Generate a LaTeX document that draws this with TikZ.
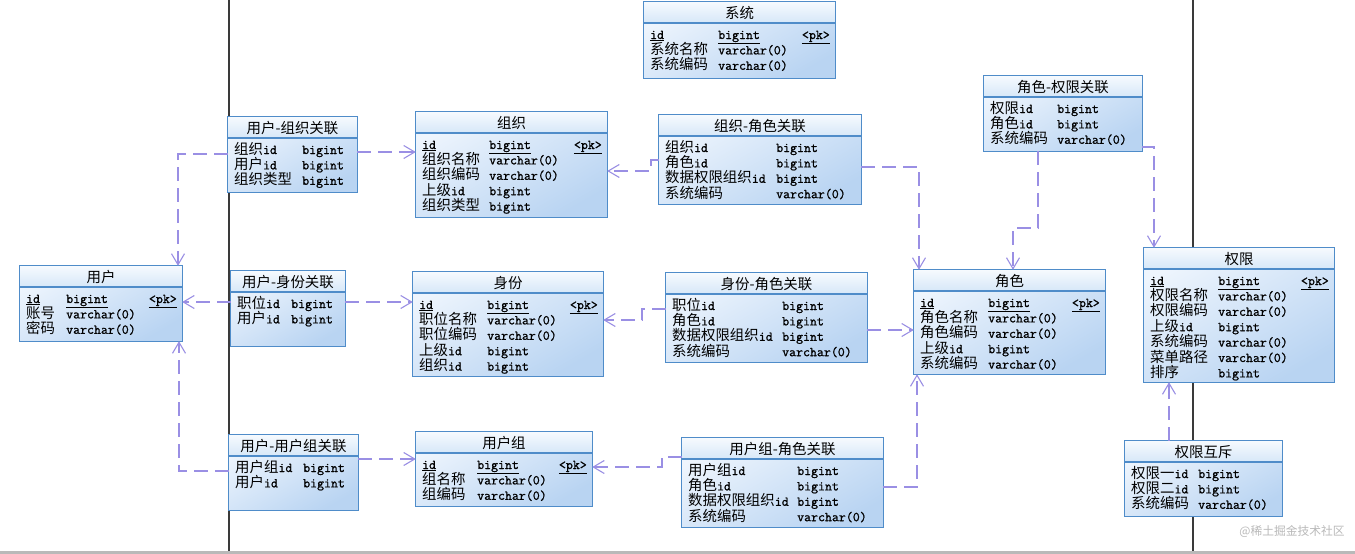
\documentclass[tikz,border=0pt]{standalone}
\usepackage{fontspec}
\newfontfamily\cjk[Scale=1.07]{Noto Sans CJK SC}
\newfontfamily\monof[FakeBold=1.2]{Latin Modern Mono}
\usetikzlibrary{fit,arrows.meta}
\definecolor{bordc}{HTML}{4F8CC9}
\definecolor{bodytop}{HTML}{EEF5FD}
\definecolor{bodybot}{HTML}{B9D4F2}
\definecolor{hdtop}{HTML}{F6FAFE}
\definecolor{hdbot}{HTML}{D6E7F8}
\definecolor{relc}{HTML}{9A8FE4}
\definecolor{sepc}{HTML}{3A3A3A}
\newcommand\zh[1]{{\cjk #1}}
\newcommand\und[1]{\underline{#1}}
\tikzset{
  tbl/.style={inner sep=0pt, top color=bodytop, bottom color=bodybot, shading angle=30},
  tblline/.style={draw=bordc, line width=1.3pt},
  ttl/.style={inner sep=0pt, anchor=center, font=\fontsize{13.5}{15}\cjk},
  cell/.style={inner sep=0pt, anchor=base west, font=\fontsize{13.5}{15}\monof},
  rel/.style={draw=relc, line width=1.2pt, dash pattern=on 14pt off 7pt,
    -{Straight Barb[length=11pt,width=13pt,line width=1.1pt]}},
  sepline/.style={draw=sepc, line width=1.4pt}
}
% #1 name #2 x1 #3 y1 #4 x2 #5 y2 #6 title #7 type column offset #8 rows
\newcommand\ertbl[8]{%
  \node[tbl, fit={(#2,#3) (#4,#5)}] (#1) {};
  \shade[top color=hdtop, bottom color=hdbot] (#2,#3) rectangle (#4,#3+21);
  \draw[tblline] (#2,#3+21) -- (#4,#3+21);
  \draw[tblline] (#1.north west) rectangle (#1.south east);
  \node[ttl] at ({(#2+#4)/2}, #3+11) {#6};
  \foreach \n/\t/\k [count=\i from 0] in {#8} {
    \node[cell] at (#2+6, #3+37+\i*15.4) {\n};
    \node[cell] at (#2+#7, #3+37+\i*15.4) {\t};
    \node[cell, anchor=base east] at (#4-5, #3+37+\i*15.4) {\k};
  }
}
\begin{document}
\begin{tikzpicture}[x=1pt,y=-1pt]
\useasboundingbox (0,0) rectangle (1355,554);
\fill[white] (0,0) rectangle (1355,554);
\fill[gray!55] (0,550.5) rectangle (1355,554);
\draw[sepline] (229,0) -- (229,550.5);
\draw[sepline] (1193,0) -- (1193,550.5);

\ertbl{sys}{644}{2}{835}{78}{系统}{74}{\und{id}/\und{bigint}/\und{<pk>}, \zh{系统名称}/varchar(0)/{}, \zh{系统编码}/varchar(0)/{}}
\ertbl{uo}{228}{117}{357}{192}{用户-组织关联}{74}{\zh{组织}id/bigint/{}, \zh{用户}id/bigint/{}, \zh{组织类型}/bigint/{}}
\ertbl{user}{20}{266}{182}{341}{用户}{46}{\und{id}/\und{bigint}/\und{<pk>}, \zh{账号}/varchar(0)/{}, \zh{密码}/varchar(0)/{}}
\ertbl{ui}{231}{271}{345}{346}{用户-身份关联}{60}{\zh{职位}id/bigint/{}, \zh{用户}id/bigint/{}}
\ertbl{ug}{229}{435}{358}{510}{用户-用户组关联}{74}{\zh{用户组}id/bigint/{}, \zh{用户}id/bigint/{}}
\ertbl{org}{416}{112}{607}{217}{组织}{73}{\und{id}/\und{bigint}/\und{<pk>}, \zh{组织名称}/varchar(0)/{}, \zh{组织编码}/varchar(0)/{}, \zh{上级}id/bigint/{}, \zh{组织类型}/bigint/{}}
\ertbl{orr}{659}{115}{861}{204}{组织-角色关联}{117}{\zh{组织}id/bigint/{}, \zh{角色}id/bigint/{}, \zh{数据权限组织}id/bigint/{}, \zh{系统编码}/varchar(0)/{}}
\ertbl{iden}{413}{272}{603}{376}{身份}{74}{\und{id}/\und{bigint}/\und{<pk>}, \zh{职位名称}/varchar(0)/{}, \zh{职位编码}/varchar(0)/{}, \zh{上级}id/bigint/{}, \zh{组织}id/bigint/{}}
\ertbl{ir}{666}{273}{867}{362}{身份-角色关联}{116}{\zh{职位}id/bigint/{}, \zh{角色}id/bigint/{}, \zh{数据权限组织}id/bigint/{}, \zh{系统编码}/varchar(0)/{}}
\ertbl{grp}{416}{432}{592}{506}{用户组}{61}{\und{id}/\und{bigint}/\und{<pk>}, \zh{组名称}/varchar(0)/{}, \zh{组编码}/varchar(0)/{}}
\ertbl{gr}{682}{438}{883}{527}{用户组-角色关联}{115}{\zh{用户组}id/bigint/{}, \zh{角色}id/bigint/{}, \zh{数据权限组织}id/bigint/{}, \zh{系统编码}/varchar(0)/{}}
\ertbl{rp}{984}{76}{1142}{151}{角色-权限关联}{73}{\zh{权限}id/bigint/{}, \zh{角色}id/bigint/{}, \zh{系统编码}/varchar(0)/{}}
\ertbl{role}{914}{270}{1105}{374}{角色}{74}{\und{id}/\und{bigint}/\und{<pk>}, \zh{角色名称}/varchar(0)/{}, \zh{角色编码}/varchar(0)/{}, \zh{上级}id/bigint/{}, \zh{系统编码}/varchar(0)/{}}
\ertbl{perm}{1144}{248}{1334}{382}{权限}{74}{\und{id}/\und{bigint}/\und{<pk>}, \zh{权限名称}/varchar(0)/{}, \zh{权限编码}/varchar(0)/{}, \zh{上级}id/bigint/{}, \zh{系统编码}/varchar(0)/{}, \zh{菜单路径}/varchar(0)/{}, \zh{排序}/bigint/{}}
\ertbl{mutex}{1125}{441}{1282}{516}{权限互斥}{73}{\zh{权限一}id/bigint/{}, \zh{权限二}id/bigint/{}, \zh{系统编码}/varchar(0)/{}}

\node[inner sep=0pt, font=\fontsize{11}{11}\cjk, text=gray!55] (wm) at (1292,532) {@稀土掘金技术社区};

% connectors
\coordinate (k1) at (178,154);
\draw[rel] (uo.west |- k1) -| (user.north -| k1);
\coordinate (k2) at (0,152);
\draw[rel] (uo.east |- k2) -- (org.west |- k2);
\coordinate (k3) at (0,302);
\draw[rel] (ui.west |- k3) -- (user.east |- k3);
\draw[rel] (ui.east |- k3) -- (iden.west |- k3);
\coordinate (k5) at (179,471);
\draw[rel] (ug.west |- k5) -| (user.south -| k5);
\coordinate (k6) at (0,459);
\draw[rel] (ug.east |- k6) -- (grp.west |- k6);
\coordinate (k7a) at (651,160);
\coordinate (k7b) at (651,171);
\draw[rel] (orr.west |- k7a) -- (k7a) -- (k7b) -- (org.east |- k7b);
\coordinate (k8a) at (642,309);
\coordinate (k8b) at (642,320);
\draw[rel] (ir.west |- k8a) -- (k8a) -- (k8b) -- (iden.east |- k8b);
\coordinate (k9a) at (662,457);
\coordinate (k9b) at (662,467);
\draw[rel] (gr.west |- k9a) -- (k9a) -- (k9b) -- (grp.east |- k9b);
\coordinate (k10) at (919,167);
\draw[rel] (orr.east |- k10) -| (role.north -| k10);
\coordinate (k11) at (0,330);
\draw[rel] (ir.east |- k11) -- (role.west |- k11);
\coordinate (k12) at (917,487);
\draw[rel] (gr.east |- k12) -| (role.south -| k12);
\coordinate (k13a) at (1038,228);
\coordinate (k13b) at (1013,228);
\draw[rel] (rp.south -| k13a) -- (k13a) -- (k13b) -- (role.north -| k13b);
\coordinate (k14) at (1154,147);
\draw[rel] (rp.east |- k14) -| (perm.north -| k14);
\coordinate (k15) at (1169,0);
\draw[rel] (mutex.north -| k15) -- (perm.south -| k15);
\end{tikzpicture}
\end{document}
